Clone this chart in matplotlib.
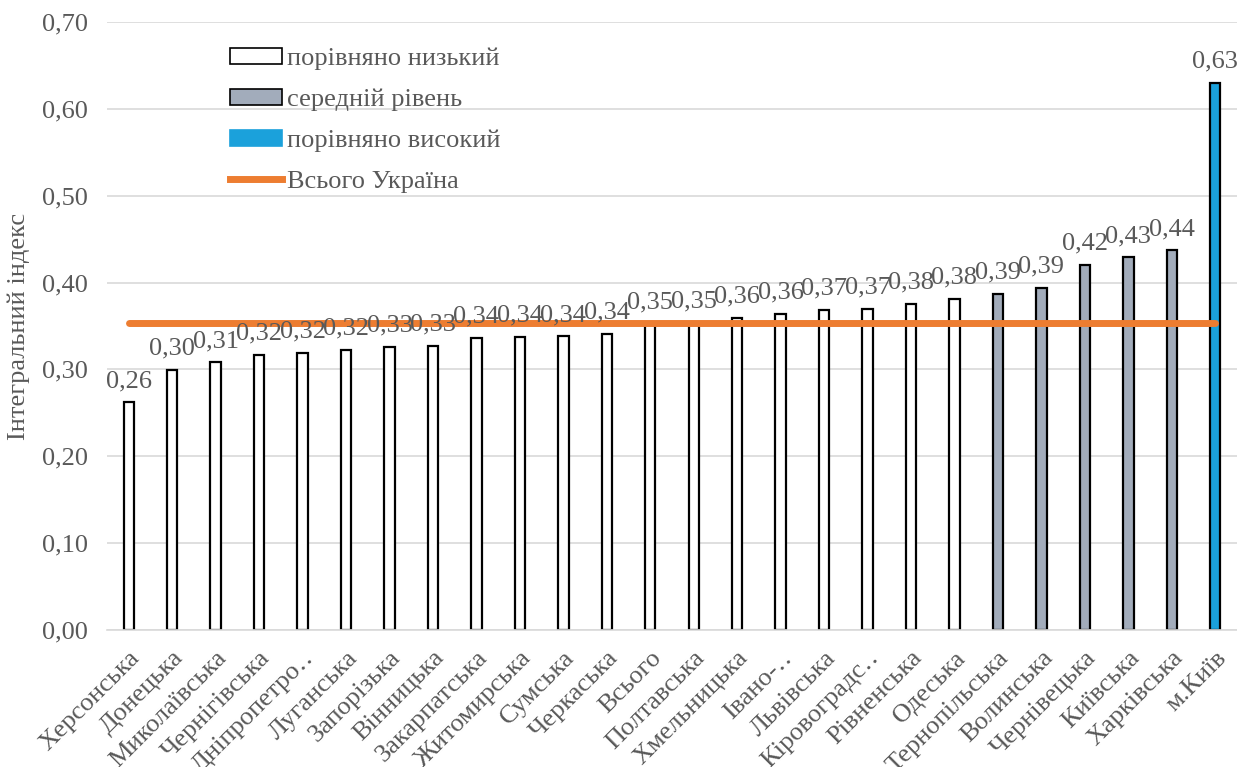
import numpy as np
import matplotlib
matplotlib.use("Agg")
from matplotlib import pyplot as plt
from matplotlib.patches import Patch
from matplotlib.lines import Line2D

plt.rcParams['font.family'] = ['Liberation Serif', 'DejaVu Serif']

# regions sorted by the integral index
regions = ['Херсонська', 'Донецька', 'Миколаївська', 'Чернігівська', 'Дніпропетро‥',
           'Луганська', 'Запорізька', 'Вінницька', 'Закарпатська', 'Житомирська',
           'Сумська', 'Черкаська', 'Всього', 'Полтавська', 'Хмельницька', 'Івано-‥',
           'Львівська', 'Кіровоградс‥', 'Рівненська', 'Одеська', 'Тернопільська',
           'Волинська', 'Чернівецька', 'Київська', 'Харківська', 'м.Київ']
values = [0.262, 0.299, 0.308, 0.317, 0.319, 0.322, 0.326, 0.327, 0.336, 0.337,
          0.338, 0.341, 0.353, 0.354, 0.359, 0.364, 0.368, 0.370, 0.375, 0.381,
          0.387, 0.394, 0.420, 0.429, 0.437, 0.630]
# 0 = low, 1 = middle, 2 = high
groups = [0] * 20 + [1] * 5 + [2]
ukraine_total = 0.353

group_names = ['порівняно низький', 'середній рівень', 'порівняно високий']
group_colours = ['#FFFFFF', '#A2ACBB', '#1BA1DB']
line_name = 'Всього Україна'

grey = '#595959'
fs = 19

fig = plt.figure(figsize=(12.37, 7.67), dpi=100)
ax = fig.add_axes([107 / 1237, 1 - 630 / 767, 1 - 107 / 1237, (630 - 22) / 767])

x = np.arange(len(regions))
cols = [group_colours[g] for g in groups]
ax.bar(x, values, width=0.24, color=cols, edgecolor='black', linewidth=1.6, zorder=2)
ax.plot(x, [ukraine_total] * len(x), color='#ED7D31', linewidth=5, solid_capstyle='round', zorder=3)

for xi, v in zip(x, values):
    ax.annotate(f'{v:.2f}'.replace('.', ','), (xi, v), xytext=(0, 7.5), textcoords='offset points',
                ha='center', va='bottom', fontsize=fs, color=grey, zorder=4)

ax.set_xlim(-0.5, len(regions) - 0.5)
ax.set_ylim(0, 0.70)
yt = np.arange(0, 0.71, 0.1)
ax.set_yticks(yt)
ax.set_yticklabels([f'{t:.2f}'.replace('.', ',') for t in yt], fontsize=fs, color=grey)
ax.set_xticks(x)
ax.set_xticklabels(regions, rotation=45, ha='right', va='top', rotation_mode='anchor',
                   fontsize=fs, color=grey)
ax.tick_params(axis='both', length=0)
ax.tick_params(axis='x', pad=12)
ax.tick_params(axis='y', pad=14)
ax.grid(axis='y', color='#D9D9D9', linewidth=1.2, zorder=0)
for s in ['top', 'right', 'left']:
    ax.spines[s].set_visible(False)
ax.spines['bottom'].set_color('#D9D9D9')
ax.spines['bottom'].set_linewidth(1.2)
ax.set_ylabel('Інтегральний індекс', fontsize=fs, color=grey, labelpad=8)

handles = [Patch(facecolor=c, edgecolor='black' if i < 2 else c, linewidth=1.2)
           for i, c in enumerate(group_colours)]
handles.append(Line2D([0], [0], color='#ED7D31', linewidth=5))
leg = ax.legend(handles, group_names + [line_name], loc='upper left',
                bbox_to_anchor=(0.109, 0.958), frameon=False, fontsize=fs, borderpad=0,
                borderaxespad=0, handlelength=1.97, handleheight=0.55, handletextpad=0.2,
                labelspacing=0.7)
for t in leg.get_texts():
    t.set_color(grey)

fig.savefig('out.png', dpi=100)
